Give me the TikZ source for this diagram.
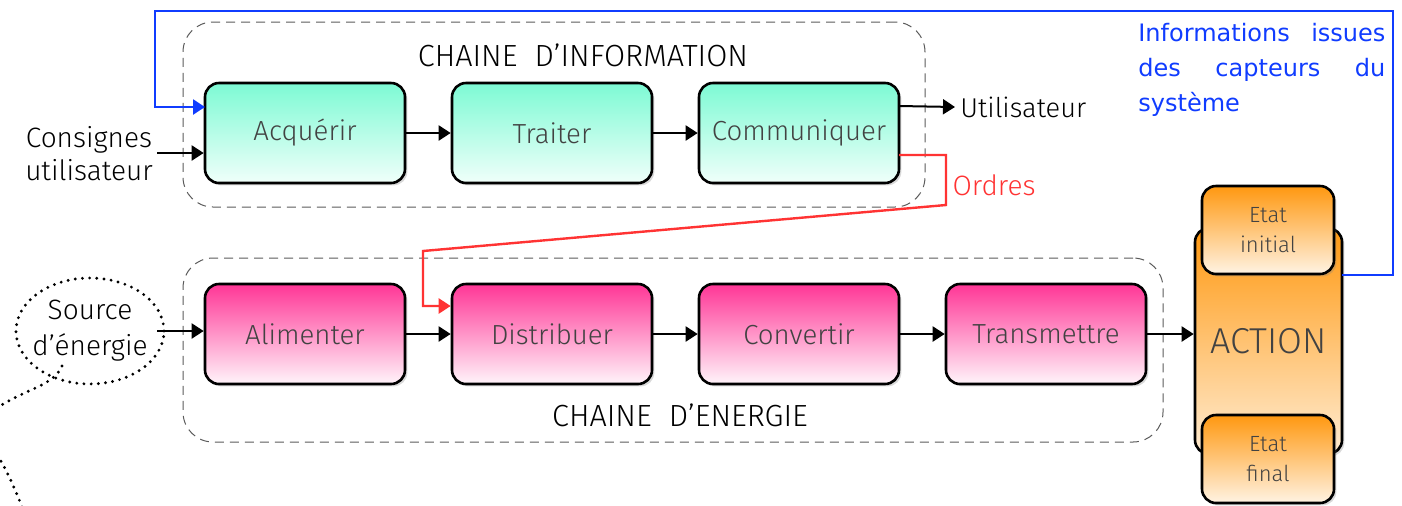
\documentclass[tikz,border=0pt]{standalone}
\usepackage{fontspec}
\setmainfont{Fira Sans Light}
\newfontfamily\captfont{DejaVu Sans}
\usetikzlibrary{arrows.meta,shadows,calc,shapes.geometric}
% no word splitting in the multi-line labels
\hyphenpenalty=10000
\exhyphenpenalty=10000

\definecolor{tealtop}{RGB}{125,250,212}
\definecolor{tealbot}{RGB}{240,255,250}
\definecolor{pinktop}{RGB}{255,54,150}
\definecolor{pinkbot}{RGB}{255,244,250}
\definecolor{orgtop}{RGB}{255,152,16}
\definecolor{orgbot}{RGB}{255,243,227}
\definecolor{actbot}{RGB}{255,236,210}
\definecolor{labgray}{RGB}{66,66,66}
\definecolor{capblue}{RGB}{16,60,255}
\definecolor{ordred}{RGB}{255,51,51}
\definecolor{dashgray}{RGB}{90,90,90}

\tikzset{
  blockbase/.style={draw=black, line width=1.3pt, rounded corners=7pt,
    minimum width=100pt, minimum height=50pt, text=labgray,
    font=\fontsize{13.8}{17}\selectfont,
    drop shadow={shadow xshift=1.2pt, shadow yshift=-1.2pt, opacity=0.3}},
  infoblock/.style={blockbase, top color=tealtop, bottom color=tealbot},
  nrjblock/.style={blockbase, top color=pinktop, bottom color=pinkbot},
  etatblock/.style={blockbase, top color=orgtop, bottom color=orgbot,
    minimum width=66pt, minimum height=44pt, align=center,
    font=\fontsize{11}{15}\selectfont},
  actblock/.style={blockbase, top color=orgtop, bottom color=actbot,
    minimum width=73.5pt, minimum height=113pt,
    font=\fontsize{18}{20}\selectfont},
  chainbox/.style={draw=dashgray, line width=0.5pt, dash pattern=on 4.5pt off 3pt,
    rounded corners=15pt},
  flow/.style={line width=1pt, -{Triangle[length=6pt,width=7.5pt]}},
  plaintxt/.style={font=\fontsize{14}{16.5}\selectfont, align=center, inner sep=0pt},
  titletxt/.style={font=\fontsize{15.3}{18}\selectfont, inner sep=0pt},
  dotline/.style={line width=1.6pt, dash pattern=on 0pt off 3.6pt, line cap=round},
}

\begin{document}
\begin{tikzpicture}[x=0.5pt, y=-0.5pt]
  \useasboundingbox (0,0) rectangle (1402,505);

  % dashed frames of the two chains
  \node[chainbox, minimum width=371pt, minimum height=92.5pt] (infochain) at (554,114.5) {};
  \node[chainbox, minimum width=490pt, minimum height=92pt] (nrjchain) at (673,350) {};
  \node[titletxt] (infotitle) at (583,55) {CHAINE\ \ D’INFORMATION};
  \node[titletxt] (nrjtitle) at (680,415) {CHAINE\ \ D’ENERGIE};

  % information chain
  \node[infoblock] (acq) at (305,133) {Acquérir};
  \node[infoblock] (trai) at (552,133) {Traiter};
  \node[infoblock] (comm) at (799,133) {Communiquer};

  % energy chain
  \node[nrjblock] (alim) at (305,334) {Alimenter};
  \node[nrjblock] (dist) at (552,334) {Distribuer};
  \node[nrjblock] (conv) at (799,334) {Convertir};
  \node[nrjblock] (trans) at (1046,334) {Transmettre};

  % action column
  \node[actblock] (action) at (1268.5,341) {ACTION};
  \node[etatblock] (etati) at (1268,230) {Etat\\initial};
  \node[etatblock] (etatf) at (1268,459) {Etat\\final};

  % inputs and outputs
  \node[plaintxt] (cons) at (89,153.5) {Consignes\\utilisateur};
  \node[plaintxt, anchor=west, inner sep=2.5pt, font=\fontsize{13.6}{16}\selectfont] (util) at (955,107) {Utilisateur};
  \node[plaintxt, text=ordred] (ordres) at (994,185) {Ordres};
  \node[draw, dotline, ellipse, minimum width=74pt, minimum height=53pt, inner sep=0pt] (src) at (90,331) {};
  \node[plaintxt, font=\fontsize{14}{18}\selectfont] (srctxt) at (90,331) {Source\\d’énergie};
  \node[anchor=north west, inner sep=0pt, text width=123.5pt, align=justify,
        text=capblue, font=\captfont\fontsize{12}{17.5}\selectfont] (capt) at (1138,23)
        {Informations issues des capteurs du système};

  \coordinate (consout) at (157,153);
  \coordinate (srcout) at (157,331);
  \coordinate (utilout) at (899,106);
  \coordinate (fbstart) at (1342,275);
  \coordinate (fbright) at (1393,275);
  \coordinate (fbleft) at (155,11);
  \coordinate (fbin) at (205,107);
  \coordinate (ordout) at (899,155);
  \coordinate (ordturn) at (946,155);
  \coordinate (ordlow) at (946,205);
  \coordinate (orddrop) at (423,251);
  \coordinate (ordin) at (423,306);

  % main flow
  \draw[flow] (acq) -- (trai);
  \draw[flow] (trai) -- (comm);
  \draw[flow] (alim) -- (dist);
  \draw[flow] (dist) -- (conv);
  \draw[flow] (conv) -- (trans);
  \draw[flow] (trans.east) -- (action.west |- trans.east);
  \draw[flow] (consout) -- (acq.west |- consout);
  \draw[flow] (srcout) -- (alim.west |- srcout);
  \draw[flow] (utilout) -- (util.west);

  % orders from the information chain
  \draw[ordred, line width=1.2pt, -{Triangle[length=6pt,width=7.5pt]}]
    (ordout) -- (ordturn) -- (ordlow) -- (orddrop) -- (ordin) -- (dist.west |- ordin);

  % sensor feedback
  \draw[capblue, line width=1.2pt, -{Triangle[length=6pt,width=7.5pt]}]
    (fbstart) -- (fbright) |- (fbleft) |- (fbin);

  % dotted lead from the energy source
  \draw[dotline] (62,366) .. controls (52,390) and (15,388) .. (-25,425)
                 .. controls (-12,440) and (5,460) .. (25,515);
\end{tikzpicture}
\end{document}
